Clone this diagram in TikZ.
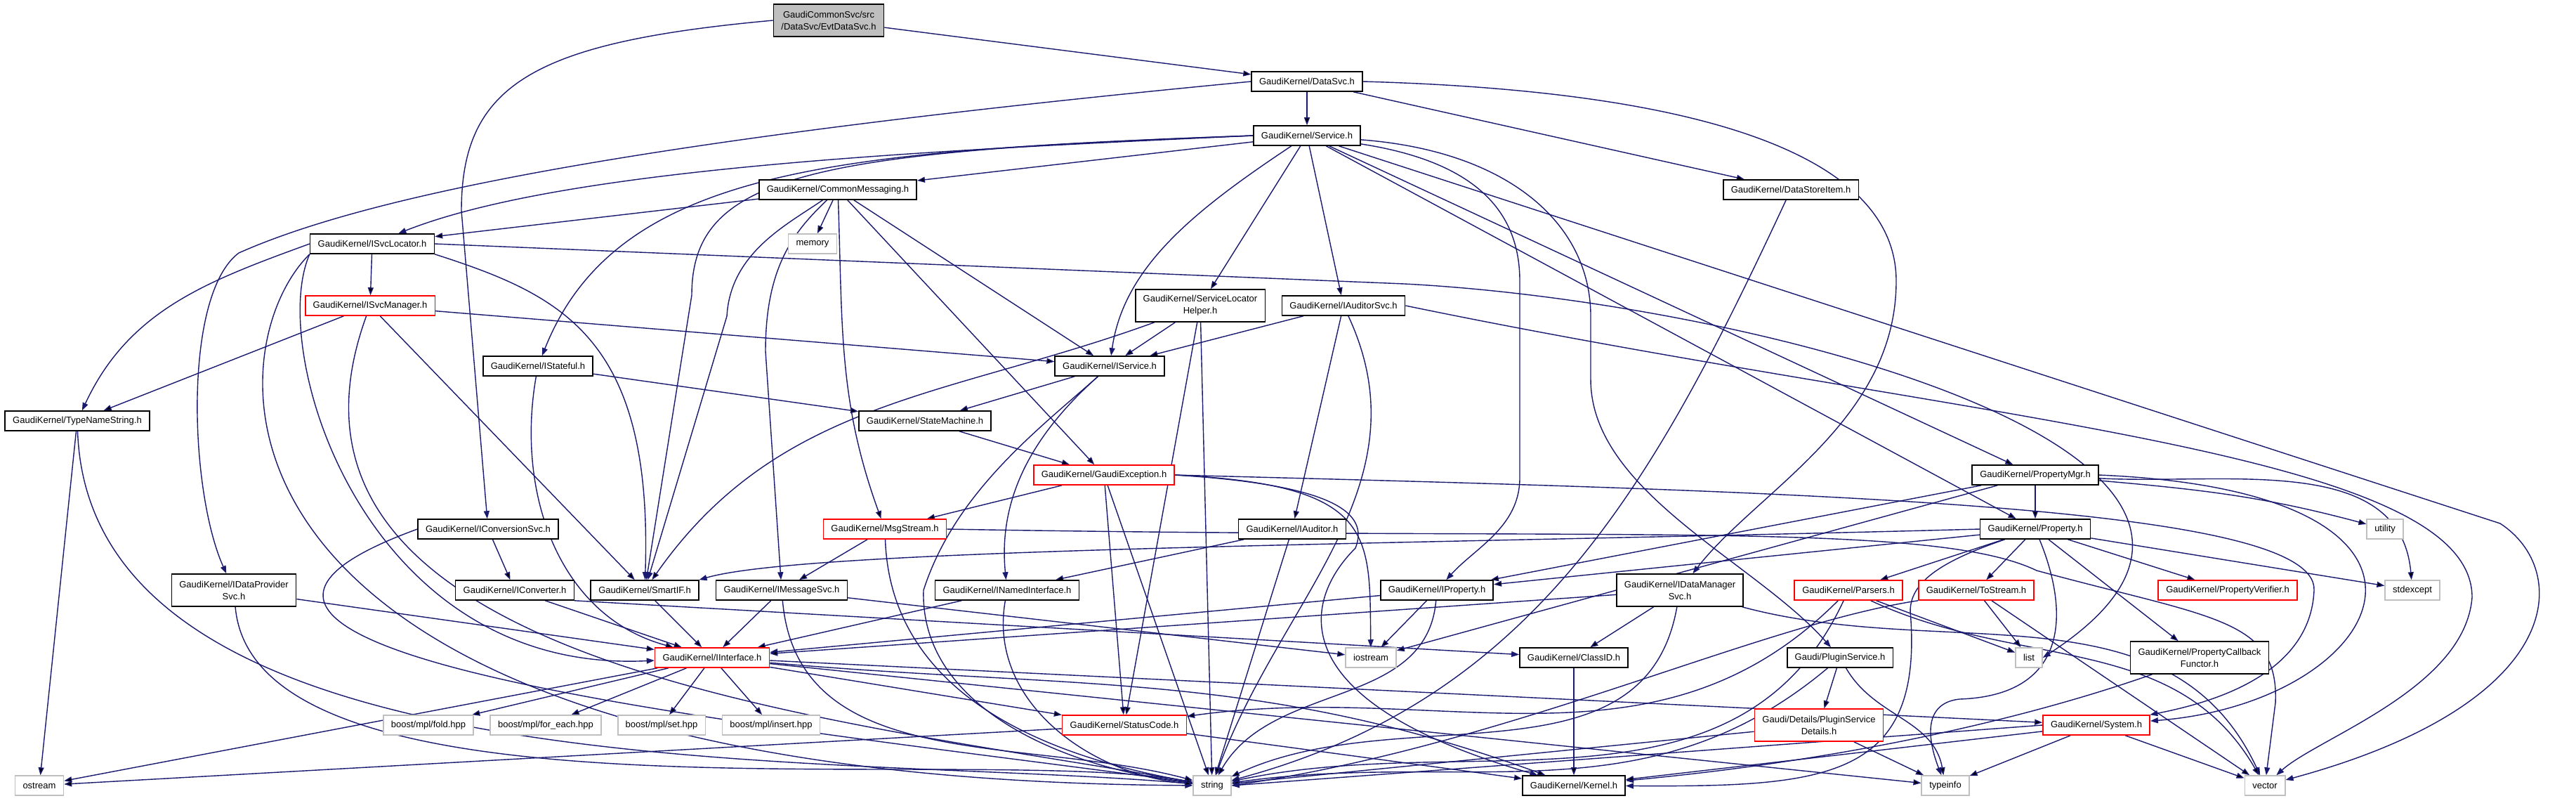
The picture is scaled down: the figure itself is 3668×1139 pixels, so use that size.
\documentclass[tikz,border=0pt]{standalone}
\usepackage{fontspec}
\setmainfont{Liberation Sans}
\usetikzlibrary{arrows.meta,backgrounds}
\definecolor{depblue}{RGB}{25,25,112}
\definecolor{sysgrey}{RGB}{191,191,191}
\tikzset{
  hdr/.style={draw=black, fill=white, line width=0.4pt, inner xsep=2.75pt, inner ysep=1.75pt,
    minimum height=7pt, align=center, font=\fontsize{3.25}{4.25}\selectfont},
  cuthdr/.style={hdr, draw=red},
  syshdr/.style={hdr, draw=sysgrey},
  srchdr/.style={hdr, fill=sysgrey},
  tall/.style={minimum height=11.5pt},
  dep/.style={draw=depblue, line width=0.35pt, -{Triangle[length=2.75pt,width=2pt]}}
}

\begin{document}
\begin{tikzpicture}[x=0.25pt,y=0.25pt]
\useasboundingbox (0,0) rectangle (3668,-1139);

\node[srchdr,tall] (evtdatasvc) at (1180,-29) {GaudiCommonSvc/src\\/DataSvc/EvtDataSvc.h};
\node[hdr] (datasvc) at (1861,-116) {GaudiKernel/DataSvc.h};
\node[hdr] (service) at (1861,-193) {GaudiKernel/Service.h};
\node[hdr] (commonmsg) at (1193,-270) {GaudiKernel/CommonMessaging.h};
\node[hdr] (datastoreitem) at (2550,-270) {GaudiKernel/DataStoreItem.h};
\node[syshdr] (memory) at (1157,-347) {memory};
\node[hdr] (isvclocator) at (530,-347) {GaudiKernel/ISvcLocator.h};
\node[cuthdr] (isvcmanager) at (527,-435) {GaudiKernel/ISvcManager.h};
\node[hdr,tall] (svclochelper) at (1709,-435) {GaudiKernel/ServiceLocator\\Helper.h};
\node[hdr] (iauditorsvc) at (1913,-435) {GaudiKernel/IAuditorSvc.h};
\node[hdr] (istateful) at (766,-521) {GaudiKernel/IStateful.h};
\node[hdr] (iservice) at (1580,-521) {GaudiKernel/IService.h};
\node[hdr] (typenamestring) at (110,-599) {GaudiKernel/TypeNameString.h};
\node[hdr] (statemachine) at (1317,-599) {GaudiKernel/StateMachine.h};
\node[cuthdr] (gaudiexception) at (1572,-676) {GaudiKernel/GaudiException.h};
\node[hdr] (propertymgr) at (2898,-676) {GaudiKernel/PropertyMgr.h};
\node[hdr] (iconversionsvc) at (695,-753) {GaudiKernel/IConversionSvc.h};
\node[cuthdr] (msgstream) at (1260,-753) {GaudiKernel/MsgStream.h};
\node[hdr] (iauditor) at (1840,-753) {GaudiKernel/IAuditor.h};
\node[hdr] (property) at (2898,-753) {GaudiKernel/Property.h};
\node[syshdr] (utility) at (3396,-753) {utility};
\node[hdr,tall] (idataprovidersvc) at (333,-840) {GaudiKernel/IDataProvider\\Svc.h};
\node[hdr] (iconverter) at (733,-840) {GaudiKernel/IConverter.h};
\node[hdr] (smartif) at (918,-840) {GaudiKernel/SmartIF.h};
\node[hdr] (imessagesvc) at (1113,-840) {GaudiKernel/IMessageSvc.h};
\node[hdr] (inamedinterface) at (1434,-840) {GaudiKernel/INamedInterface.h};
\node[hdr] (iproperty) at (2046,-840) {GaudiKernel/IProperty.h};
\node[hdr,tall] (idatamanagersvc) at (2392,-840) {GaudiKernel/IDataManager\\Svc.h};
\node[cuthdr] (parsers) at (2632,-840) {GaudiKernel/Parsers.h};
\node[cuthdr] (tostream) at (2814,-840) {GaudiKernel/ToStream.h};
\node[cuthdr] (propertyverifier) at (3172,-840) {GaudiKernel/PropertyVerifier.h};
\node[syshdr] (stdexcept) at (3435,-840) {stdexcept};
\node[cuthdr] (iinterface) at (1014,-936) {GaudiKernel/IInterface.h};
\node[syshdr] (iostream) at (1952,-936) {iostream};
\node[hdr] (classid) at (2241,-936) {GaudiKernel/ClassID.h};
\node[hdr] (pluginservice) at (2620,-936) {Gaudi/PluginService.h};
\node[syshdr] (list) at (2889,-936) {list};
\node[hdr,tall] (propertycallback) at (3132,-936) {GaudiKernel/PropertyCallback\\Functor.h};
\node[syshdr] (mplfold) at (610,-1032) {boost/mpl/fold.hpp};
\node[syshdr] (mplforeach) at (777,-1032) {boost/mpl/for\_each.hpp};
\node[syshdr] (mplset) at (942,-1032) {boost/mpl/set.hpp};
\node[syshdr] (mplinsert) at (1098,-1032) {boost/mpl/insert.hpp};
\node[cuthdr] (statuscode) at (1601,-1032) {GaudiKernel/StatusCode.h};
\node[cuthdr,tall] (plugindetails) at (2590,-1032) {Gaudi/Details/PluginService\\Details.h};
\node[cuthdr] (system) at (2985,-1032) {GaudiKernel/System.h};
\node[syshdr] (ostream) at (56,-1118) {ostream};
\node[syshdr] (string) at (1726,-1118) {string};
\node[hdr] (kernel) at (2241,-1118) {GaudiKernel/Kernel.h};
\node[syshdr] (typeinfo) at (2770,-1118) {typeinfo};
\node[syshdr] (vector) at (3225,-1118) {vector};

\begin{pgfonlayer}{background}
\fill[white] (0,0) rectangle (3668,-1139);
\draw[dep] (evtdatasvc) edge (datasvc);
\draw[dep] (evtdatasvc.west) .. controls (760,-60) and (657,-120) .. (657,-300) -- (iconversionsvc);
\draw[dep] (datasvc) edge (service) edge (datastoreitem);
\draw[dep] (datasvc.east) .. controls (2450,-130) and (2700,-230) .. (2700,-400)
  .. controls (2700,-600) and (2500,-700) .. (idatamanagersvc);
\draw[dep] (datasvc.west) .. controls (900,-200) and (520,-280) .. (340,-360)
  .. controls (260,-420) and (270,-700) .. (idataprovidersvc);
\draw[dep] (service) edge (commonmsg) edge (svclochelper) edge (iauditorsvc)
  edge (propertymgr) edge (property);
\draw[dep] (service) .. controls (1700,-300) and (1600,-380) .. (iservice);
\draw[dep] (service.west) .. controls (1300,-215) and (800,-240) .. (isvclocator);
\draw[dep] (service.west) .. controls (1200,-215) and (880,-235) .. (istateful);
\draw[dep] (service.west) .. controls (1150,-215) and (985,-250) .. (985,-420) -- (smartif);
\draw[dep] (service) .. controls (2100,-230) and (2164,-300) .. (2164,-400) -- (2164,-680)
  .. controls (2164,-750) and (2100,-780) .. (iproperty);
\draw[dep] (service) .. controls (2150,-215) and (2265,-320) .. (2265,-450) -- (2265,-540)
  .. controls (2265,-700) and (2500,-800) .. (pluginservice);
\draw[dep] (service) -- (3560,-745) .. controls (3660,-810) and (3660,-1000) .. (vector);
\draw[dep] (commonmsg) edge (isvclocator) edge (memory) edge (gaudiexception) edge (iservice)
  edge[out=-88,in=110] (msgstream);
\draw[dep] (commonmsg) .. controls (1120,-320) and (1040,-360) .. (1035,-450) -- (smartif);
\draw[dep] (commonmsg) .. controls (1130,-330) and (1090,-380) .. (1090,-500) -- (imessagesvc);
\draw[dep] (datastoreitem) edge[out=245,in=15] (string);
\draw[dep] (isvclocator) edge (isvcmanager);
\draw[dep] (isvclocator.west) to[out=200,in=65] (typenamestring);
\draw[dep] (isvclocator.south east) .. controls (800,-420) and (930,-480) .. (smartif);
\draw[dep] (isvclocator.south west) .. controls (380,-500) and (520,-960) .. (iinterface);
\draw[dep] (isvclocator.south west) .. controls (300,-500) and (250,-1110) .. (string);
\draw[dep] (isvclocator.east) -- (2000,-404) .. controls (2500,-430) and (3350,-650) .. (list.east);
\draw[dep] (isvcmanager) edge (typenamestring) edge (iservice) edge (smartif)
  edge[out=250,in=170] (string);
\draw[dep] (istateful) edge (statemachine) edge[out=260,in=165] (iinterface);
\draw[dep] (typenamestring) edge (ostream) edge[out=-88,in=175,looseness=0.8] (string);
\draw[dep] (iconversionsvc) edge (iconverter);
\draw[dep] (iconversionsvc.west) to[out=200,in=172,looseness=1.2] (string);
\draw[dep] (svclochelper) edge (iservice) edge[out=200,in=55] (smartif) edge (statuscode) edge (string);
\draw[dep] (iservice) edge (statemachine);
\draw[dep] (iservice) .. controls (1480,-610) and (1420,-700) .. (inamedinterface);
\draw[dep] (iservice) .. controls (1480,-610) and (1360,-700) .. (1315,-840)
  .. controls (1310,-1000) and (1500,-1090) .. (string);
\draw[dep] (statemachine) edge (gaudiexception);
\draw[dep] (gaudiexception) edge (msgstream) edge (statuscode) edge (string);
\draw[dep] (gaudiexception.east) .. controls (1960,-690) and (1950,-760) .. (iostream);
\draw[dep] (gaudiexception.east) .. controls (1900,-690) and (1950,-730) .. (1930,-780)
  .. controls (1850,-860) and (1830,-1000) .. (kernel);
\draw[dep] (gaudiexception.east) .. controls (2600,-700) and (3300,-720) .. (3295,-840)
  .. controls (3290,-960) and (3150,-1000) .. (system);
\draw[dep] (msgstream) edge (imessagesvc) edge[out=-88,in=170] (string);
\draw[dep] (msgstream.east) .. controls (2300,-770) and (2750,-740) .. (2900,-812)
  .. controls (3150,-880) and (3245,-880) .. (3240,-1000) -- (vector);
\draw[dep] (iauditorsvc) edge (iservice) edge (iauditor) edge[out=-65,in=70] (string);
\draw[dep] (iauditorsvc.east) .. controls (2800,-600) and (3520,-640) .. (3520,-850)
  .. controls (3510,-980) and (3300,-1050) .. (vector);
\draw[dep] (iauditor) edge (inamedinterface) edge (string);
\draw[dep] (propertymgr) edge (property) edge (iproperty) edge (iostream)
  edge[out=-5,in=165] (utility) edge[out=-3,in=95] (stdexcept);
\draw[dep] (propertymgr.east) .. controls (3560,-700) and (3400,-1000) .. (system);
\draw[dep] (property) edge (tostream) edge (parsers) edge (propertyverifier)
  edge (propertycallback) edge (stdexcept) edge (iproperty);
\draw[dep] (property.west) .. controls (2000,-775) and (1150,-780) .. (smartif.north east);
\draw[dep] (property) .. controls (2760,-800) and (2720,-830) .. (2720,-870)
  .. controls (2740,-1110) and (2600,-1120) .. (kernel);
\draw[dep] (property) .. controls (2950,-880) and (2940,-990) .. (2790,-995)
  .. controls (2745,-1000) and (2740,-1040) .. (typeinfo);
\draw[dep] (idataprovidersvc) edge (iinterface) edge[out=-85,in=170,looseness=0.6] (string);
\draw[dep] (iconverter) edge (iinterface);
\draw[dep] (iconverter.south east) -- (classid);
\draw[dep] (smartif) edge (iinterface);
\draw[dep] (imessagesvc) edge (iinterface) edge (iostream) edge[out=-85,in=165] (string);
\draw[dep] (inamedinterface) edge (iinterface) edge[out=-100,in=175] (string);
\draw[dep] (iproperty) edge (iinterface) edge (iostream) edge[out=-95,in=60] (string);
\draw[dep] (idatamanagersvc) edge (iinterface) edge (classid) edge[out=-100,in=25] (string)
  edge[out=-15,in=115] (vector);
\draw[dep] (parsers) edge (list) edge[out=225,in=8] (statuscode) edge[out=245,in=12] (string)
  edge[out=-25,in=120] (vector);
\draw[dep] (tostream) edge (list) edge (vector);
\draw[dep] (tostream.south west) .. controls (2500,-890) and (2150,-1060) .. (string.east);
\draw[dep] (pluginservice) edge (plugindetails) edge[out=-60,in=100] (typeinfo)
  edge[out=220,in=8] (string);
\draw[dep] (plugindetails) edge (string) edge (typeinfo);
\draw[dep] (propertycallback) .. controls (2950,-1000) and (2700,-1075) .. (kernel);
\draw[dep] (system) edge (kernel) edge (typeinfo) edge (vector);
\draw[dep] (system.west) -- (string.east);
\draw[dep] (iinterface) edge (mplfold) edge (mplforeach) edge (mplset) edge (mplinsert)
  edge (ostream) edge (statuscode) edge (system) edge (typeinfo)
  edge[out=-5,in=160] (kernel);
\draw[dep] (statuscode) edge (ostream) edge (kernel);
\draw[dep] (classid) edge (kernel);
\end{pgfonlayer}
\end{tikzpicture}
\end{document}
